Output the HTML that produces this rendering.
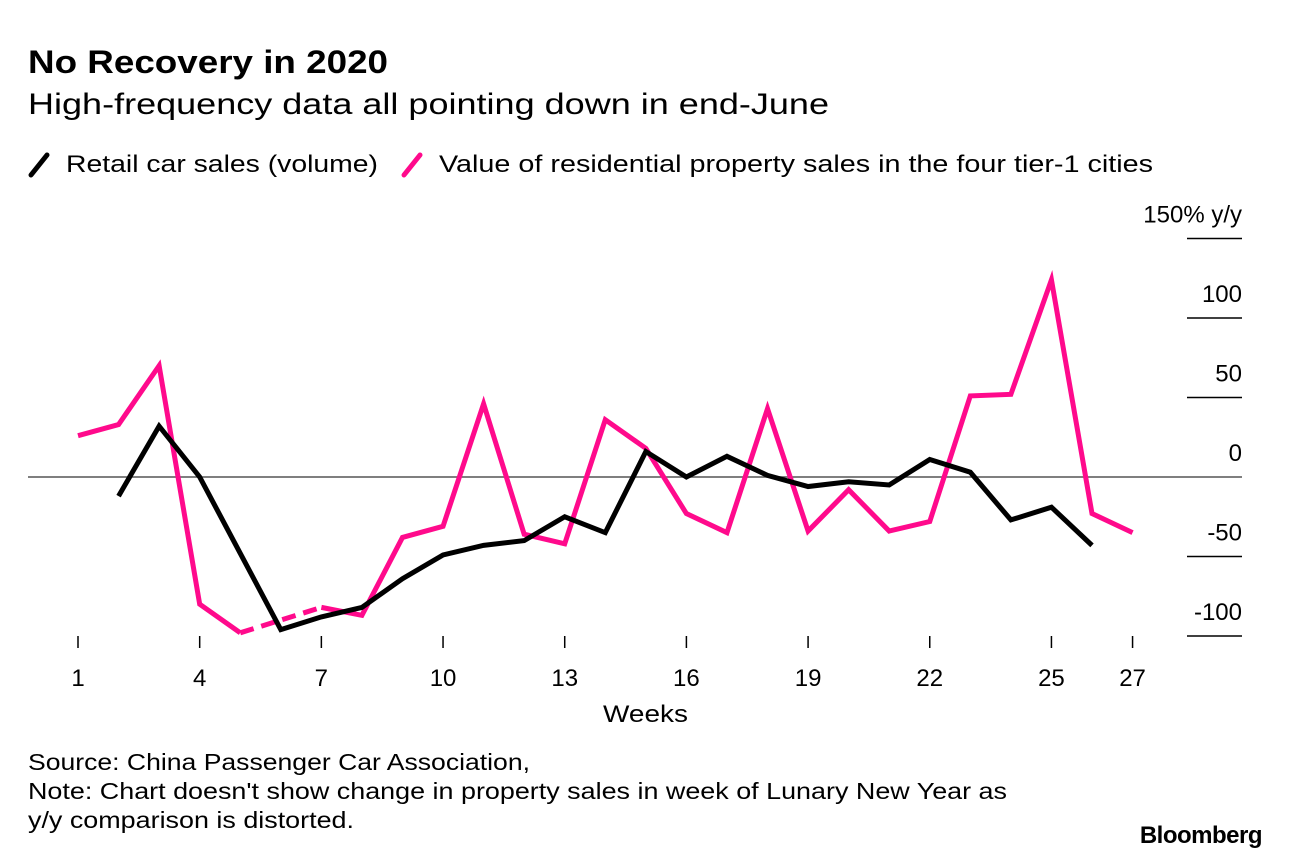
<!DOCTYPE html>
<html><head><meta charset="utf-8"><style>
body{margin:0;background:#fff;width:1290px;height:860px;overflow:hidden;font-family:"Liberation Sans",sans-serif;}
svg text{font-family:"Liberation Sans",sans-serif;}
</style></head><body>
<svg id="chart" width="1290" height="860" xmlns="http://www.w3.org/2000/svg">
<text x="28" y="73" font-size="32" font-weight="bold" fill="#000" textLength="360" lengthAdjust="spacingAndGlyphs">No Recovery in 2020</text>
<text x="28" y="114" font-size="30" fill="#000" textLength="801" lengthAdjust="spacingAndGlyphs">High-frequency data all pointing down in end-June</text>
<g>
<line x1="31" y1="175" x2="47" y2="155" stroke="#000" stroke-width="5" stroke-linecap="round"/>
<text x="66" y="172" font-size="24" textLength="312" lengthAdjust="spacingAndGlyphs">Retail car sales (volume)</text>
<line x1="404" y1="175" x2="420" y2="155" stroke="#ff0a8c" stroke-width="5" stroke-linecap="round"/>
<text x="439" y="172" font-size="24" textLength="714" lengthAdjust="spacingAndGlyphs">Value of residential property sales in the four tier-1 cities</text>
</g>
<g id="yaxis"></g>
<g id="xaxis"></g>
<g id="series"></g>
<text x="603" y="722" font-size="24" textLength="85" lengthAdjust="spacingAndGlyphs">Weeks</text>
<g font-size="23" fill="#000">
<text x="28" y="770" font-size="23" textLength="502" lengthAdjust="spacingAndGlyphs">Source: China Passenger Car Association,</text>
<text x="28" y="799" font-size="23" textLength="979" lengthAdjust="spacingAndGlyphs">Note: Chart doesn't show change in property sales in week of Lunary New Year as</text>
<text x="28" y="828" font-size="23" textLength="326" lengthAdjust="spacingAndGlyphs">y/y comparison is distorted.</text>
</g>
<text x="1262" y="843" font-size="24" font-weight="bold" text-anchor="end" letter-spacing="-0.5">Bloomberg</text>
</svg>
<script>
const weeks=[1,2,3,4,5,6,7,8,9,10,11,12,13,14,15,16,17,18,19,20,21,22,23,24,25,26,27];
const carSales=[null,-12,32,0,-48,-96,-88,-82,-64,-49,-43,-40,-25,-35,16,0,13,1,-6,-3,-5,11,3,-27,-19,-43,null];
const propertySales=[26,33,70,-80,-98,null,-82,-87,-38,-31,46,-36,-42,36,18,-23,-35,43,-34,-8,-34,-28,51,52,124,-23,-35];
const yTicks=[150,100,50,0,-50,-100];
const yTickLabels=["150% y/y","100","50","0","-50","-100"];
const xTicks=[1,4,7,10,13,16,19,22,25,27];
const NS="http://www.w3.org/2000/svg";
const X=w=>78+(w-1)*40.56;
const Y=v=>477-v*1.59;
function mk(tag,attrs,parent){const e=document.createElementNS(NS,tag);for(const k in attrs)e.setAttribute(k,attrs[k]);parent.appendChild(e);return e;}
const ya=document.getElementById('yaxis'),xa=document.getElementById('xaxis'),sg=document.getElementById('series');
yTicks.forEach((t,i)=>{
  const y=Y(t);
  const l=mk('line',{x1:t===0?28:1187,x2:1242,y1:y,y2:y,stroke:t===0?'#555':'#000','stroke-width':1.5},ya);
  
  
  const tx=mk('text',{x:1242,y:y-16,'font-size':24,'text-anchor':'end'},ya);
  tx.textContent=yTickLabels[i];
  
  
});
xTicks.forEach(w=>{
  const l=mk('line',{x1:X(w),x2:X(w),y1:636,y2:648,stroke:'#000','stroke-width':1.5},xa);
  
  
  const tx=mk('text',{x:X(w),y:686,'font-size':24,'text-anchor':'middle'},xa);
  tx.textContent=w;
  
  
});
function draw(vals,color,name){
  let seg=[];const segs=[];
  vals.forEach((v,i)=>{if(v===null){if(seg.length)segs.push(seg);seg=[];}else seg.push([X(weeks[i]),Y(v)]);});
  if(seg.length)segs.push(seg);
  segs.forEach(s=>{
    const p=mk('polyline',{points:s.map(q=>q.join(',')).join(' '),fill:'none',stroke:color,'stroke-width':5,'stroke-linejoin':'miter'},sg);
    
    
  });
  for(let i=1;i<vals.length-1;i++){
    if(vals[i]===null&&vals[i-1]!==null&&vals[i+1]!==null){
      const d=mk('line',{x1:X(weeks[i-1]),y1:Y(vals[i-1]),x2:X(weeks[i+1]),y2:Y(vals[i+1]),stroke:color,'stroke-width':5,'stroke-dasharray':'14,8'},sg);
      
      
    }
  }
}
draw(propertySales,'#ff0a8c','property-sales-line');
draw(carSales,'#000','car-sales-line');
</script>
</body></html>
